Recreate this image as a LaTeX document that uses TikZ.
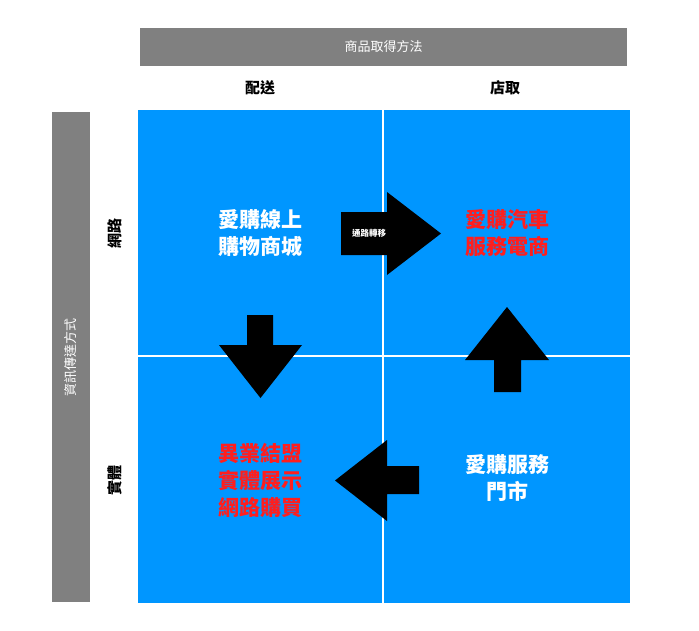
\documentclass[tikz,border=0pt]{standalone}
\usepackage{fontspec}
\setmainfont{Noto Sans CJK TC}
\newfontfamily\cjkb{Noto Sans CJK TC}[BoldFont={* Bold}]
\definecolor{qblue}{RGB}{0,150,255}
\definecolor{bargray}{RGB}{128,128,128}
\definecolor{qred}{RGB}{255,30,30}
\begin{document}
\begin{tikzpicture}[x=1pt,y=-1pt,
  big/.style={font=\fontsize{21}{27}\selectfont\bfseries, align=center},
  hdr/.style={font=\fontsize{15}{18}\selectfont\bfseries},
  arr/.style={fill=black}]
\useasboundingbox (0,0) rectangle (699,630);
\fill[white] (0,0) rectangle (699,630);
\fill[bargray] (140,28) rectangle (627,66);
\node[font=\fontsize{13}{16}\selectfont, text=white] (top) at (383.5,47) {商品取得方法};
\fill[bargray] (52,112) rectangle (90,602);
\node[font=\fontsize{13}{16}\selectfont, text=white, rotate=90] (left) at (71,357) {資訊傳達方式};
\node[hdr] (c1) at (260,88) {配送};
\node[hdr] (c2) at (505,88) {店取};
\node[hdr, rotate=90] (r1) at (115,233) {網路};
\node[hdr, rotate=90] (r2) at (115,480) {實體};
\fill[qblue] (138,110) rectangle (630,603);
\draw[white, line width=2.5pt] (383,110) -- (383,603) (138,356) -- (630,356);
\node[big, text=white] (q1) at (260,233) {愛購線上\\購物商城};
\node[big, text=qred] (q2) at (507,233) {愛購汽車\\服務電商};
\node[big, text=qred] (q3) at (260,480) {異業結盟\\實體展示\\網路購買};
\node[big, text=white] (q4) at (507,478) {愛購服務\\門市};
% right arrow
\fill[arr] (341,212) -- (387,212) -- (387,192) -- (441,233.5) -- (387,275) -- (387,255) -- (341,255) -- cycle;
\node[font=\fontsize{8.5}{10}\selectfont\bfseries, text=white] (lab) at (369,233.5) {通路轉移};
% down arrow
\fill[arr] (247,315) -- (273,315) -- (273,345) -- (302,345) -- (260.5,398) -- (219,345) -- (247,345) -- cycle;
% up arrow
\fill[arr] (494,392) -- (521,392) -- (521,360) -- (549,360) -- (507,307) -- (465,360) -- (494,360) -- cycle;
% left arrow
\fill[arr] (419,466) -- (387,466) -- (387,440) -- (335,480.5) -- (387,521) -- (387,494) -- (419,494) -- cycle;
\end{tikzpicture}
\end{document}
